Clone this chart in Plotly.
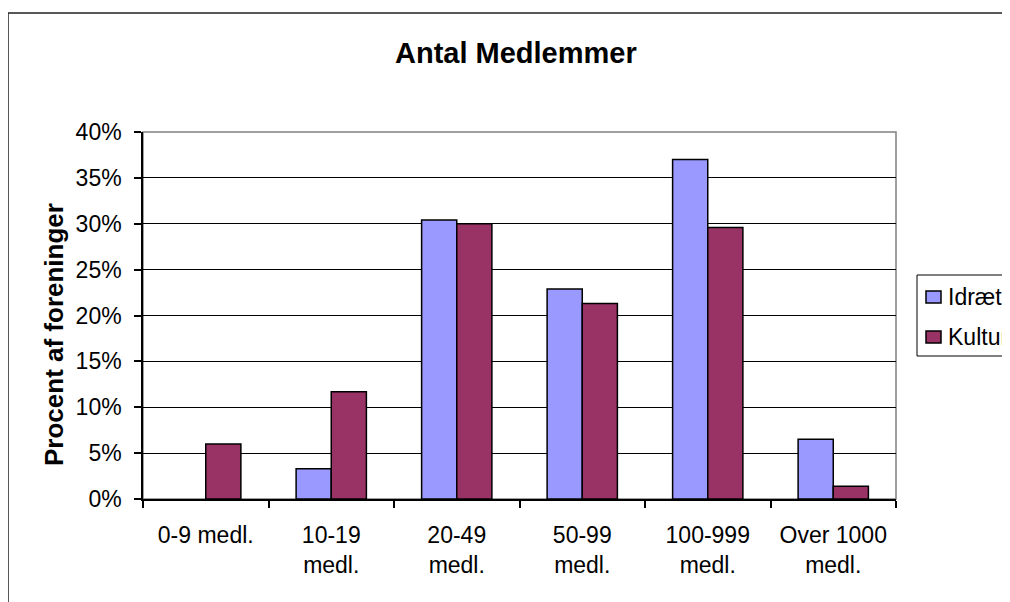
import plotly.graph_objects as go

categories = ["0-9 medl.", "10-19<br>medl.", "20-49<br>medl.", "50-99<br>medl.",
              "100-999<br>medl.", "Over 1000<br>medl."]
idraet = [0.0, 3.3, 30.4, 22.9, 37.0, 6.5]
kultur = [6.0, 11.7, 30.0, 21.3, 29.6, 1.4]
y_ticks = [0, 5, 10, 15, 20, 25, 30, 35, 40]
y_labels = [f"{v}%" for v in y_ticks]

FONT = "Liberation Sans, Arial, sans-serif"
COLORS = {"Idræt": "#9999FF", "Kultur": "#993366"}

# page body has an 8px margin, so the figure starts at (8, 8) in the window
OFF = 8
W, H = 1010, 594
# plot area in window pixels: x 143..896, y 132..499
L, R, T, B = 143, 896, 132, 499
pw, ph = R - L, B - T


def px_x(x):
    return (x - L) / pw


def px_y(y):
    return (B - y) / ph


fig = go.Figure()
for name, vals in (("Idræt", idraet), ("Kultur", kultur)):
    fig.add_trace(go.Bar(
        x=categories, y=vals, name=name, showlegend=False,
        marker=dict(color=COLORS[name],
                    line=dict(color="#000000", width=[0 if v == 0 else 1.5 for v in vals])),
    ))

fig.update_layout(
    width=W,
    height=H,
    margin=dict(l=L - OFF, r=W - (R - OFF), t=T - OFF, b=H - (B - OFF), autoexpand=False),
    paper_bgcolor="white",
    plot_bgcolor="white",
    barmode="group",
    bargap=0.44,
    bargroupgap=0,
    font=dict(family=FONT, size=22, color="#000000"),
)

fig.update_xaxes(
    showline=True, linecolor="#000000", linewidth=1.5,
    ticks="outside", ticklen=7, tickcolor="#000000", tickwidth=1.5,
    tickson="boundaries", showgrid=False,
    tickfont=dict(family=FONT, size=23, color="#000000"),
    ticklabelstandoff=15,
)
fig.update_yaxes(
    range=[0, 40], tickmode="array", tickvals=y_ticks, ticktext=y_labels,
    showline=True, linecolor="#000000", linewidth=1.5,
    ticks="outside", ticklen=7, tickcolor="#000000", tickwidth=1.5,
    showgrid=True, gridcolor="#000000", gridwidth=1, zeroline=False,
    tickfont=dict(family=FONT, size=23, color="#000000"),
    ticklabelstandoff=8,
)

# gray plot-area frame (top/right)
fig.add_shape(type="rect", xref="paper", yref="paper", x0=0, x1=1, y0=0, y1=1,
              line=dict(color="#808080", width=1.5), layer="below")
# outer chart border, running off the right and bottom edges
fig.add_shape(type="rect", xref="paper", yref="paper",
              x0=px_x(8), x1=px_x(1100), y0=px_y(700), y1=px_y(13),
              line=dict(color="#222222", width=1.5))

# legend box, Excel style, running off the right edge
fig.add_shape(type="rect", xref="paper", yref="paper",
              x0=px_x(917), x1=px_x(1100), y0=px_y(356), y1=px_y(275),
              line=dict(color="#000000", width=1), fillcolor="white")
for i, name in enumerate(COLORS):
    cy = 297 + 40 * i
    fig.add_shape(type="rect", xref="paper", yref="paper",
                  x0=px_x(926), x1=px_x(941), y0=px_y(cy + 6), y1=px_y(cy - 6),
                  line=dict(color="#000000", width=1.5), fillcolor=COLORS[name])
    fig.add_annotation(
        text=name, xref="paper", yref="paper", x=px_x(946), y=px_y(cy),
        xanchor="left", yanchor="middle", showarrow=False,
        font=dict(family=FONT, size=23, color="#000000"),
    )

fig.add_annotation(
    text="<b>Antal Medlemmer</b>", xref="paper", yref="paper",
    x=px_x(516), y=px_y(53), xanchor="center", yanchor="middle", showarrow=False,
    font=dict(family=FONT, size=29, color="#000000"),
)
fig.add_annotation(
    text="<b>Procent af foreninger</b>", xref="paper", yref="paper",
    x=px_x(54), y=px_y(335), xanchor="center", yanchor="middle", showarrow=False,
    textangle=-90,
    font=dict(family=FONT, size=26, color="#000000"),
)

fig.write_html("out.html")
